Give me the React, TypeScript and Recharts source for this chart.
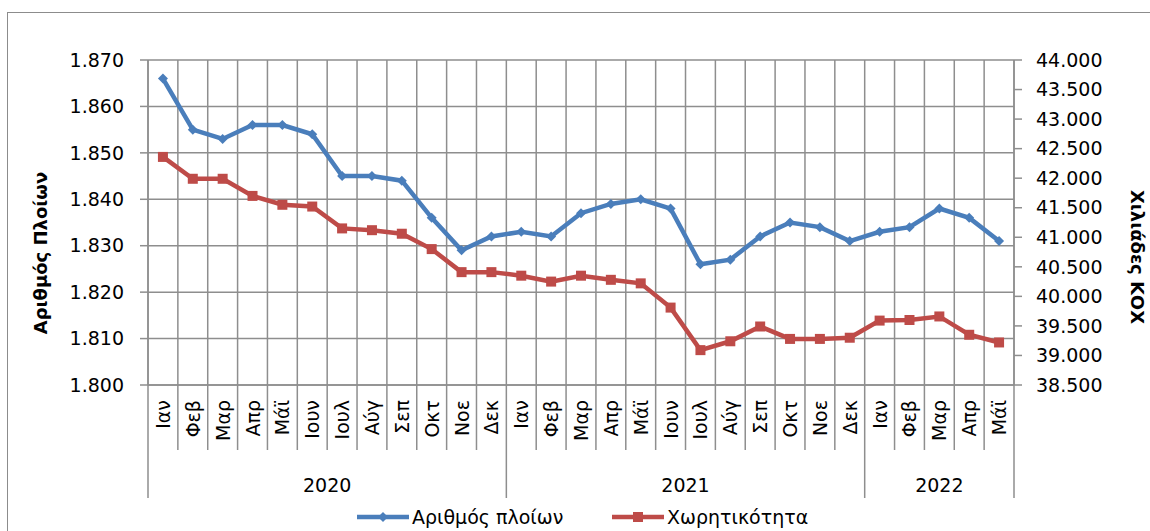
import React from 'react';
import { LineChart, Line, XAxis, YAxis, CartesianGrid } from 'recharts';

// monthly series, Jan 2020 - May 2022
const months = [
  'Ιαν', 'Φεβ', 'Μαρ', 'Απρ', 'Μάϊ', 'Ιουν', 'Ιουλ', 'Αύγ', 'Σεπ', 'Οκτ', 'Νοε', 'Δεκ',
  'Ιαν', 'Φεβ', 'Μαρ', 'Απρ', 'Μάϊ', 'Ιουν', 'Ιουλ', 'Αύγ', 'Σεπ', 'Οκτ', 'Νοε', 'Δεκ',
  'Ιαν', 'Φεβ', 'Μαρ', 'Απρ', 'Μάϊ',
];
const years = ['2020', '2021', '2022'];
const yearStarts = [0, 12, 24];

const ships = [
  1866, 1855, 1853, 1856, 1856, 1854, 1845, 1845, 1844, 1836, 1829, 1832,
  1833, 1832, 1837, 1839, 1840, 1838, 1826, 1827, 1832, 1835, 1834, 1831,
  1833, 1834, 1838, 1836, 1831,
];
const capacity = [
  42360, 41990, 41990, 41700, 41550, 41520, 41150, 41120, 41060, 40800, 40410, 40410,
  40350, 40250, 40350, 40280, 40220, 39810, 39090, 39240, 39490, 39280, 39280, 39300,
  39590, 39600, 39660, 39350, 39220,
];

const leftTicks = [1800, 1810, 1820, 1830, 1840, 1850, 1860, 1870];
const rightTicks = [
  38500, 39000, 39500, 40000, 40500, 41000, 41500, 42000, 42500, 43000, 43500, 44000,
];

const W = 1150;
const H = 531;
const LEFT_W = 148;
const RIGHT_W = 136;
const TOP = 60;
const X_H = 146;
const N = months.length;
const STEP = (W - LEFT_W - RIGHT_W) / N;

const BLUE = '#4a7ebb';
const RED = '#be4b48';
const GRID = '#8e8e8e';
const FONT = '"DejaVu Sans", sans-serif';

const data = months.map((m, i) => ({
  x: i + 0.5,
  month: m,
  ships: ships[i],
  capacity: capacity[i],
}));
const xTicks = Array.from({ length: N + 1 }, (_, i) => i);

const fmt = (v: number) =>
  String(Math.round(v)).replace(/\B(?=(\d{3})+(?!\d))/g, '.');

function MonthTick(props: any) {
  const { x, y, payload } = props;
  const v = payload.value as number;
  const yi = yearStarts.indexOf(v);
  const isBoundary = yi >= 0 || v === N;
  const cx = x + STEP / 2;
  let yearLabel = null;
  if (yi >= 0) {
    const end = yi + 1 < yearStarts.length ? yearStarts[yi + 1] : N;
    const mid = x + ((end - v) * STEP) / 2;
    yearLabel = (
      <text x={mid} y={y + 100} textAnchor="middle" dominantBaseline="central"
        fontFamily={FONT} fontSize={19} fill="#000">
        {years[yi]}
      </text>
    );
  }
  return (
    <g>
      <line x1={x} y1={y} x2={x} y2={y + (isBoundary ? 113 : 65)} stroke={GRID} strokeWidth={1.5} />
      {v < N && (
        <text x={cx} y={y + 15} textAnchor="end" dominantBaseline="central"
          transform={`rotate(-90, ${cx}, ${y + 15})`}
          fontFamily={FONT} fontSize={19} fill="#000">
          {months[v]}
        </text>
      )}
      {yearLabel}
    </g>
  );
}

const Diamond = (props: any) => {
  const { cx, cy, index } = props;
  const r = 5;
  return (
    <path key={`d-${index}`} d={`M${cx},${cy - r}L${cx + r},${cy}L${cx},${cy + r}L${cx - r},${cy}Z`} fill={BLUE} />
  );
};

const Square = (props: any) => {
  const { cx, cy, index } = props;
  const s = 10;
  return <rect key={`s-${index}`} x={cx - s / 2} y={cy - s / 2} width={s} height={s} fill={RED} />;
};

const legendItems = [
  { name: 'Αριθμός πλοίων', color: BLUE, marker: 'diamond', left: 357 },
  { name: 'Χωρητικότητα', color: RED, marker: 'square', left: 612 },
];

export default function App() {
  return (
    <div style={{ position: 'fixed', left: 0, top: 0, width: W, height: H, overflow: 'hidden', background: '#fff' }}>
      <div style={{ position: 'absolute', left: 7, top: 12, width: 1200, height: 600, border: '1.5px solid #8c8c8c' }} />
      <div style={{ position: 'absolute', left: 0, top: 0 }}>
        <LineChart width={W} height={H} data={data} margin={{ top: TOP, right: 0, left: 0, bottom: 0 }}>
          <CartesianGrid xAxisId="m" yAxisId="left" stroke={GRID} strokeWidth={1.5} />
          <XAxis
            xAxisId="m"
            type="number"
            dataKey="x"
            domain={[0, N]}
            ticks={xTicks}
            interval={0}
            height={X_H}
            tickSize={0}
            tickMargin={0}
            tickLine={false}
            axisLine={{ stroke: GRID, strokeWidth: 1.5 }}
            tick={<MonthTick />}
          />
          <YAxis
            yAxisId="left"
            width={LEFT_W}
            domain={[1800, 1870]}
            ticks={leftTicks}
            interval={0}
            tickFormatter={fmt}
            tickSize={8}
            tickMargin={16}
            axisLine={{ stroke: GRID, strokeWidth: 1.5 }}
            tickLine={{ stroke: GRID, strokeWidth: 1.5 }}
            tick={{ fill: '#000', fontSize: 19, fontFamily: FONT }}
            label={{
              content: () => (
                <text x={40} y={253} textAnchor="middle" dominantBaseline="central"
                  transform="rotate(-90, 40, 253)" fontFamily={FONT} fontWeight="bold" fontSize={18} fill="#000">
                  Αριθμός Πλοίων
                </text>
              ),
            }}
          />
          <YAxis
            yAxisId="right"
            orientation="right"
            width={RIGHT_W}
            domain={[38500, 44000]}
            ticks={rightTicks}
            interval={0}
            tickFormatter={fmt}
            tickSize={8}
            tickMargin={14}
            axisLine={{ stroke: GRID, strokeWidth: 1.5 }}
            tickLine={{ stroke: GRID, strokeWidth: 1.5 }}
            tick={{ fill: '#000', fontSize: 19, fontFamily: FONT }}
            label={{
              content: () => (
                <text x={1137} y={257} textAnchor="middle" dominantBaseline="central"
                  transform="rotate(90, 1137, 257)" fontFamily={FONT} fontWeight="bold" fontSize={18} fill="#000">
                  Χιλιάδες ΚΟΧ
                </text>
              ),
            }}
          />
          <Line
            xAxisId="m"
            yAxisId="left"
            dataKey="ships"
            stroke={BLUE}
            strokeWidth={4.5}
            dot={Diamond}
            activeDot={false}
            isAnimationActive={false}
          />
          <Line
            xAxisId="m"
            yAxisId="right"
            dataKey="capacity"
            stroke={RED}
            strokeWidth={4.5}
            dot={Square}
            activeDot={false}
            isAnimationActive={false}
          />
        </LineChart>
      </div>
      {legendItems.map((it) => (
        <div key={it.name} style={{ position: 'absolute', left: it.left, top: 504, height: 26, display: 'flex', alignItems: 'center', fontFamily: FONT, fontSize: 19, color: '#000', whiteSpace: 'nowrap' }}>
          <svg width={52} height={14} style={{ marginRight: 3 }}>
            <line x1={0} y1={7} x2={52} y2={7} stroke={it.color} strokeWidth={4.5} />
            {it.marker === 'diamond' ? (
              <path d="M26,2L31,7L26,12L21,7Z" fill={it.color} />
            ) : (
              <rect x={21} y={2} width={10} height={10} fill={it.color} />
            )}
          </svg>
          <span>{it.name}</span>
        </div>
      ))}
    </div>
  );
}
